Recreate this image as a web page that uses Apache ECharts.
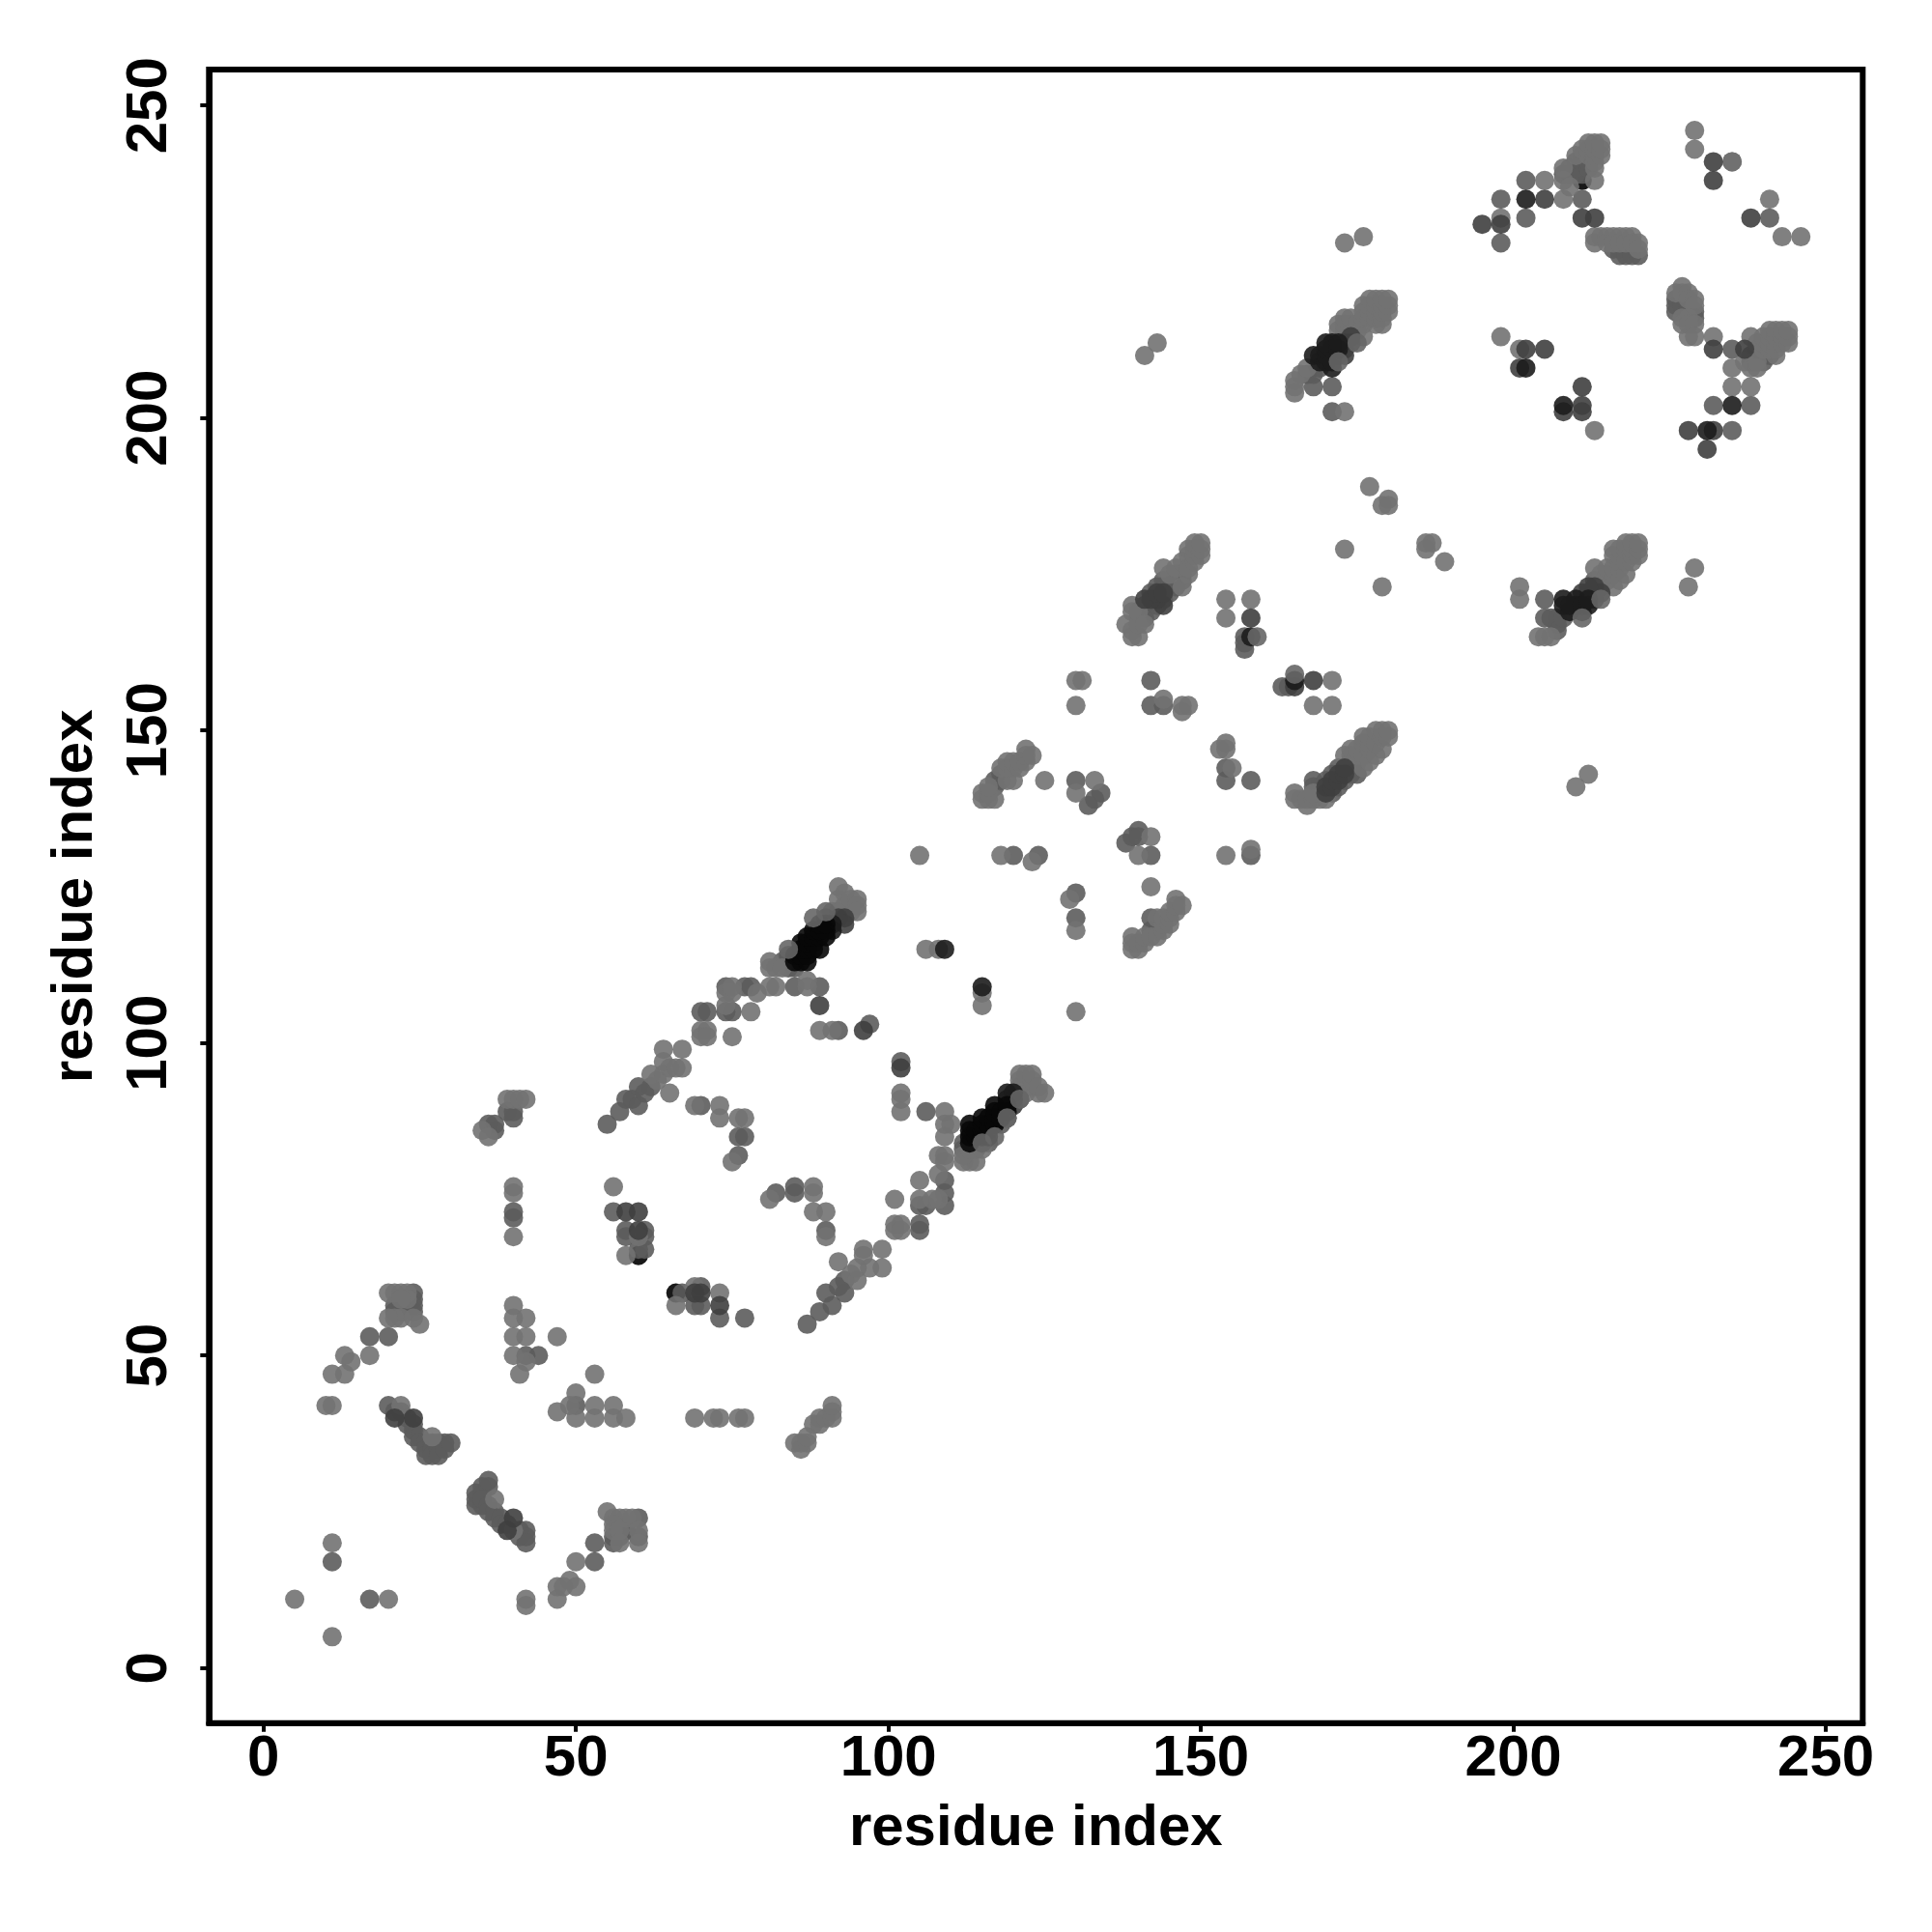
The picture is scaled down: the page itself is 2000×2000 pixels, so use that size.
<!DOCTYPE html>
<html><head><meta charset="utf-8">
<script src="https://cdn.jsdelivr.net/npm/echarts@6/dist/echarts.min.js"></script>
<style>html,body{margin:0;padding:0;background:#fff}#c{width:2000px;height:2000px}</style>
</head><body><div id="c"></div>
<script>
const tickValues = [0, 50, 100, 150, 200, 250];
const axisTitle = 'residue index';
const underBlackPoints = [[60,66],[66,60],[211,238]];
const blackPoints = [[85,113],[86,113],[87,113],[85,114],[86,114],[87,114],[86,115],[87,115],[88,115],[86,116],[87,116],[88,116],[89,115],[87,117],[88,117],[89,117],[90,117],[88,118],[89,118],[90,118],[89,119],[90,119],[113,84],[113,85],[113,86],[113,87],[114,85],[114,86],[115,85],[115,86],[115,87],[115,88],[116,85],[116,86],[116,87],[116,88],[117,87],[117,88],[117,89],[117,90],[118,88],[118,89],[119,89],[119,90]];
const veryDarkPoints = [[168,210],[169,209],[169,210],[210,170],[210,171],[109,115],[115,109],[91,119],[91,118],[119,91],[119,92],[120,91],[120,92],[158,165],[165,158],[208,202],[202,208],[202,235],[235,202],[231,198],[170,209],[170,210],[170,211],[171,208],[171,209],[171,211],[171,212],[170,212],[172,211],[172,212],[208,171],[208,170],[209,169],[209,170],[211,169],[211,170],[212,170],[212,171]];
const darkPoints = [[40,24],[39,22],[24,40],[21,40],[58,73],[60,70],[60,73],[73,58],[70,60],[69,60],[89,106],[102,96],[96,102],[90,120],[92,120],[93,120],[93,119],[120,90],[158,168],[168,158],[205,211],[202,211],[201,208],[211,205],[208,201],[211,202],[211,201],[232,211],[232,238],[232,241],[231,195],[228,198],[232,198],[195,231],[198,231],[205,235],[211,232],[213,232],[238,232],[237,211],[172,210],[173,210],[173,211],[173,212],[174,212],[174,213],[213,171],[213,172],[213,173],[214,172],[211,172],[212,172],[212,173],[165,157],[144,170],[143,171],[142,171],[141,171],[143,172],[144,172],[170,140],[170,141],[171,141],[171,142],[172,142],[172,143],[173,143],[173,144]];
const midPoints = [[11,17],[17,11],[17,53],[20,53],[53,17],[53,20],[20,42],[21,41],[22,41],[23,40],[23,39],[24,39],[24,38],[24,37],[25,37],[25,36],[26,36],[26,35],[26,34],[27,36],[27,35],[27,34],[28,36],[28,35],[28,34],[29,36],[29,35],[30,36],[34,26],[34,27],[34,28],[35,28],[35,29],[36,29],[36,30],[35,26],[35,27],[36,26],[36,25],[37,25],[37,24],[38,24],[38,23],[39,23],[41,22],[41,21],[42,22],[42,21],[42,20],[56,21],[56,20],[57,21],[58,23],[58,22],[60,24],[60,21],[22,58],[22,57],[21,58],[21,57],[24,60],[24,59],[24,58],[24,57],[42,50],[44,50],[50,42],[56,73],[58,70],[58,69],[61,70],[61,69],[61,67],[60,67],[67,60],[70,61],[70,58],[69,58],[73,56],[77,56],[55,87],[57,89],[58,91],[59,91],[60,90],[60,93],[61,92],[62,93],[40,73],[40,72],[37,87],[37,86],[36,87],[40,88],[39,89],[40,89],[70,90],[76,85],[77,85],[76,82],[82,76],[85,77],[85,76],[90,70],[87,55],[89,57],[90,60],[91,58],[93,60],[93,62],[92,61],[70,105],[71,105],[74,105],[75,105],[74,109],[77,109],[78,109],[85,109],[89,109],[92,102],[97,103],[102,97],[105,70],[105,71],[106,74],[105,74],[106,89],[109,78],[109,76],[109,74],[85,112],[84,112],[84,114],[83,113],[114,84],[114,83],[116,84],[118,87],[119,88],[121,91],[112,84],[112,83],[120,130],[124,130],[130,124],[130,120],[134,140],[133,139],[132,138],[130,142],[138,132],[139,133],[140,134],[140,133],[142,130],[142,158],[144,154],[142,154],[158,142],[154,142],[154,144],[157,165],[157,164],[157,163],[163,157],[164,157],[158,130],[168,205],[171,205],[168,207],[167,207],[169,208],[171,201],[173,213],[173,214],[174,214],[174,215],[198,228],[198,235],[202,232],[202,238],[211,235],[235,198],[235,211],[235,241],[232,202],[238,202],[241,232],[207,166],[207,167],[206,168],[207,168],[208,168],[205,168],[205,171],[214,173],[214,174],[213,174],[226,219],[226,218],[226,217],[227,219],[227,218],[228,218],[228,217],[229,217],[229,216],[238,209],[238,210],[239,210],[239,211],[240,209],[240,210],[241,210],[208,239],[209,239],[209,240],[210,239],[210,240],[210,241],[211,239],[211,241],[211,242],[212,240],[212,241],[216,227],[217,227],[217,226],[218,227],[218,226],[219,227],[219,226],[220,226],[168,142],[168,141],[169,141],[169,140],[170,142],[171,140],[171,143],[172,141],[172,144],[173,142],[174,143],[174,144],[174,145],[175,143],[175,145],[141,168],[140,168],[141,170],[142,169],[142,172],[143,170],[143,173],[144,171],[144,173],[144,174],[145,172],[145,174],[146,173],[146,175],[147,174],[147,175],[142,120],[143,118],[142,118],[117,142],[117,141],[118,142],[118,143]];
const lightPoints = [[5,11],[11,5],[11,20],[20,11],[42,11],[42,10],[47,11],[47,13],[48,13],[49,14],[50,13],[50,17],[10,42],[11,42],[11,47],[13,47],[13,50],[14,49],[17,50],[40,58],[40,56],[42,56],[40,53],[42,53],[47,53],[40,50],[42,49],[41,47],[53,47],[50,44],[50,40],[47,41],[49,42],[53,42],[53,40],[56,42],[56,40],[58,40],[69,40],[72,40],[73,40],[76,40],[77,40],[85,36],[86,35],[86,36],[87,36],[87,37],[88,39],[89,39],[89,40],[90,40],[91,40],[91,41],[91,42],[22,42],[27,37],[37,27],[40,22],[55,25],[56,24],[57,24],[58,24],[59,24],[56,23],[56,22],[57,22],[60,22],[57,20],[60,20],[20,60],[21,60],[22,60],[23,60],[23,59],[22,59],[22,56],[21,56],[20,56],[24,56],[25,55],[40,77],[40,76],[40,69],[35,86],[36,85],[39,91],[40,91],[41,91],[42,91],[56,77],[58,66],[60,69],[69,61],[66,58],[73,60],[69,90],[73,90],[73,88],[76,88],[77,88],[75,81],[81,75],[88,77],[88,76],[88,73],[90,73],[90,69],[62,95],[63,94],[64,95],[64,97],[64,99],[65,96],[65,92],[66,96],[67,96],[67,99],[70,102],[71,102],[70,101],[71,101],[75,101],[74,106],[78,105],[74,108],[75,108],[75,109],[79,108],[81,109],[82,109],[87,110],[87,109],[89,102],[91,102],[102,92],[102,91],[102,89],[92,65],[94,63],[95,62],[95,64],[96,67],[96,66],[97,64],[99,67],[99,64],[101,75],[101,71],[102,71],[101,70],[102,70],[105,75],[105,78],[107,75],[108,75],[108,79],[109,82],[109,81],[108,82],[109,85],[109,87],[110,87],[109,89],[112,81],[113,81],[114,81],[112,82],[113,83],[115,83],[81,113],[81,112],[82,112],[83,112],[121,93],[121,94],[121,95],[122,92],[122,95],[123,93],[123,94],[123,95],[124,92],[124,93],[125,92],[91,121],[92,121],[94,121],[92,123],[93,124],[92,125],[93,122],[94,123],[95,123],[95,122],[95,121],[106,115],[108,115],[115,108],[115,106],[105,130],[118,130],[123,129],[125,142],[115,139],[116,139],[117,139],[115,140],[116,140],[116,141],[119,142],[120,142],[118,144],[119,144],[119,145],[120,144],[120,145],[121,144],[121,145],[122,145],[122,146],[122,147],[123,146],[130,118],[130,105],[129,123],[130,140],[133,142],[130,158],[131,158],[130,154],[142,125],[144,155],[147,153],[147,154],[148,154],[142,133],[140,130],[139,115],[140,115],[139,116],[140,116],[139,117],[141,116],[141,117],[142,117],[143,117],[143,120],[144,118],[144,119],[144,120],[145,119],[145,120],[145,121],[146,121],[146,122],[146,123],[147,122],[138,167],[139,165],[140,165],[139,166],[139,169],[139,170],[140,167],[140,169],[141,167],[144,176],[145,175],[146,176],[147,177],[147,173],[148,175],[148,176],[148,178],[148,179],[149,177],[149,178],[149,179],[149,180],[150,178],[150,179],[150,180],[154,171],[154,168],[158,171],[153,147],[154,147],[154,148],[155,144],[154,130],[158,131],[168,154],[171,154],[171,158],[173,179],[177,189],[180,187],[179,186],[180,186],[186,180],[187,180],[186,179],[189,177],[179,173],[141,210],[143,212],[173,201],[165,205],[165,204],[165,206],[166,207],[167,208],[172,214],[172,215],[173,215],[173,216],[174,216],[175,214],[175,215],[176,213],[176,215],[176,216],[176,217],[176,218],[177,216],[177,217],[177,218],[177,219],[178,215],[178,216],[178,217],[178,218],[178,219],[179,215],[179,216],[179,217],[179,218],[179,219],[180,217],[180,218],[180,219],[173,228],[176,229],[198,213],[201,211],[213,198],[198,232],[205,238],[208,235],[208,238],[208,240],[209,237],[210,242],[211,243],[212,242],[212,243],[212,244],[213,238],[213,240],[213,241],[213,242],[213,243],[213,244],[214,242],[214,243],[214,244],[213,229],[213,228],[214,229],[215,229],[215,228],[216,229],[216,228],[217,229],[217,228],[218,229],[218,228],[219,229],[219,228],[220,228],[220,227],[226,220],[227,221],[227,220],[227,216],[227,215],[228,220],[228,219],[228,216],[228,215],[228,213],[229,219],[229,218],[229,215],[229,213],[229,246],[229,243],[235,241],[232,213],[235,205],[235,208],[238,205],[238,213],[237,209],[238,208],[239,208],[239,209],[239,212],[240,211],[240,212],[240,213],[241,211],[241,212],[241,213],[241,214],[242,210],[242,211],[242,212],[242,213],[242,214],[243,212],[243,213],[243,214],[244,212],[244,213],[244,214],[241,235],[243,229],[246,229],[212,143],[210,141],[229,176],[228,173],[201,173],[201,171],[204,165],[205,165],[206,165],[213,176],[214,175],[215,174],[215,175],[215,176],[216,173],[216,175],[216,176],[216,178],[216,179],[217,174],[217,176],[217,177],[217,178],[217,179],[218,175],[218,177],[218,179],[218,180],[219,177],[219,178],[219,179],[219,180],[220,178],[220,179],[220,180],[165,140],[165,139],[166,139],[167,138],[167,139],[168,139],[169,139],[170,139],[168,140],[173,146],[174,146],[174,147],[175,146],[175,147],[176,144],[176,146],[176,148],[176,149],[177,145],[177,147],[177,148],[177,149],[178,146],[178,148],[178,150],[179,147],[179,149],[179,150],[180,149],[180,150]];
const overlayPoints = [[84,115],[88,120],[90,121],[119,88],[121,91],[115,84],[117,85],[165,159],[159,165],[172,209],[175,212],[211,168],[214,171]];

const shadeGroups = [
  {name:'under black', data:underBlackPoints, color:'#000000'},
  {name:'mid', data:midPoints, color:'#5c5c5c'},
  {name:'light', data:lightPoints, color:'#727272'},
  {name:'dark', data:darkPoints, color:'#3f3f3f'},
  {name:'very dark', data:veryDarkPoints, color:'#1c1c1c'},
  {name:'black', data:blackPoints, color:'#080808'},
  {name:'overlay', data:overlayPoints, color:'#666666'}
];
const font = 'Liberation Sans';
function axis(extra){
  return Object.assign({
    type:'value',
    name:axisTitle,
    nameLocation:'middle',
    nameTextStyle:{fontFamily:font,fontWeight:'bold',fontSize:60,color:'#000'},
    axisLine:{show:true,onZero:false,lineStyle:{color:'#000',width:6}},
    axisTick:{show:true,length:9,lineStyle:{color:'#000',width:4},customValues:tickValues},
    axisLabel:{show:true,fontFamily:font,fontWeight:'bold',fontSize:60,color:'#000',customValues:tickValues,showMinLabel:true,showMaxLabel:true},
    splitLine:{show:false}
  },extra);
}
const chart = echarts.init(document.getElementById('c'),null,{renderer:'canvas'});
chart.setOption({
  animation:false,
  backgroundColor:'#fff',
  grid:{left:216.3,right:71.7,top:72,bottom:216.3,show:true,borderColor:'#000',borderWidth:6,backgroundColor:'transparent',containLabel:false},
  xAxis:axis({min:-8.72,max:255.9,nameGap:80}),
  yAxis:axis({min:-8.81,max:255.75,nameGap:108,axisLabel:{show:true,rotate:90,margin:31,fontFamily:font,fontWeight:'bold',fontSize:60,color:'#000',customValues:tickValues}}),
  series:shadeGroups.map(g=>({type:'scatter',name:g.name,data:g.data,symbol:'circle',symbolSize:20,itemStyle:{color:g.color,opacity:0.9},silent:true,clip:false}))
});
</script></body></html>
